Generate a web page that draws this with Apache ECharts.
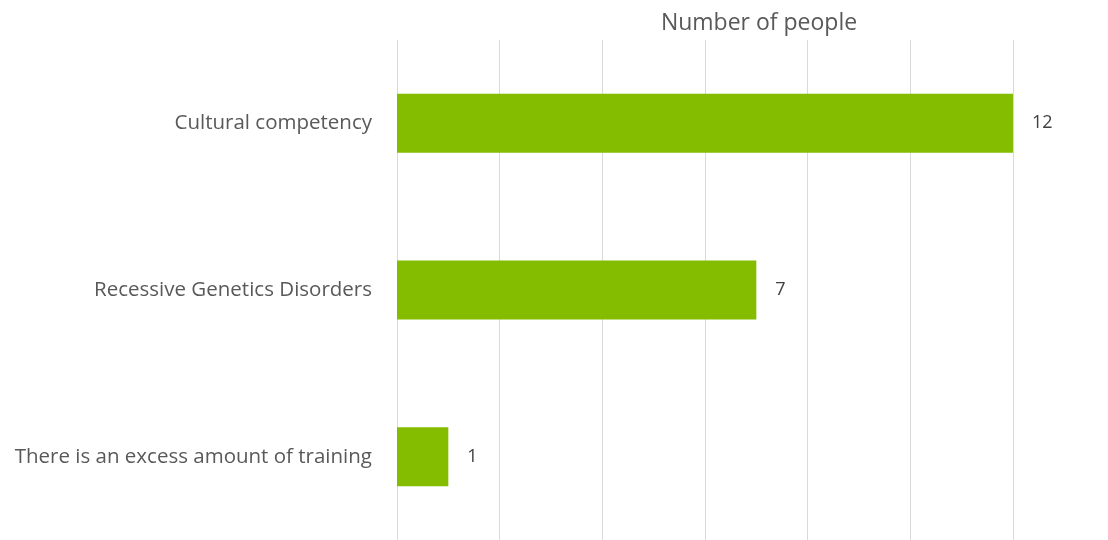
<!DOCTYPE html>
<html>
<head>
<meta charset="utf-8">
<script src="https://cdn.jsdelivr.net/npm/echarts@6/dist/echarts.min.js"></script>
<style>
  html, body { margin: 0; padding: 0; background: #fff; }
  #chart { width: 1108px; height: 540px; }
</style>
</head>
<body>
<div id="chart"></div>
<script>
// Survey responses: topics and how many people named each
const categories = ['Cultural competency', 'Recessive Genetics Disorders', 'There is an excess amount of training'];
const people = [12, 7, 1];
const axisTitle = 'Number of people';

const chart = echarts.init(document.getElementById('chart'), null, { renderer: 'canvas' });
const font = '"Open Sans", "Noto Sans", sans-serif';

chart.setOption({
  animation: false,
  backgroundColor: '#ffffff',
  title: {
    text: axisTitle,
    left: 754,
    top: 7,
    textAlign: 'center',
    textStyle: { color: '#595959', fontSize: 23, fontWeight: 'normal', fontFamily: font }
  },
  grid: { left: 397, right: 95, top: 40, height: 504, containLabel: false },
  xAxis: {
    type: 'value',
    position: 'top',
    min: 0,
    max: 12,
    interval: 2,
    axisLine: { show: false },
    axisTick: { show: false },
    axisLabel: { show: false },
    splitLine: { show: true, lineStyle: { color: '#d9d9d9', width: 1 } }
  },
  yAxis: {
    type: 'category',
    inverse: true,
    data: categories,
    axisLine: { show: false },
    axisTick: { show: false },
    axisLabel: { color: '#595959', fontSize: 20.5, fontFamily: font, margin: 25 }
  },
  series: [{
    type: 'bar',
    data: people,
    barWidth: 59,
    itemStyle: { color: '#84bd00' },
    label: {
      show: true,
      position: 'right',
      distance: 19,
      color: '#404040',
      fontSize: 18,
      fontFamily: font
    }
  }]
});
</script>
</body>
</html>
